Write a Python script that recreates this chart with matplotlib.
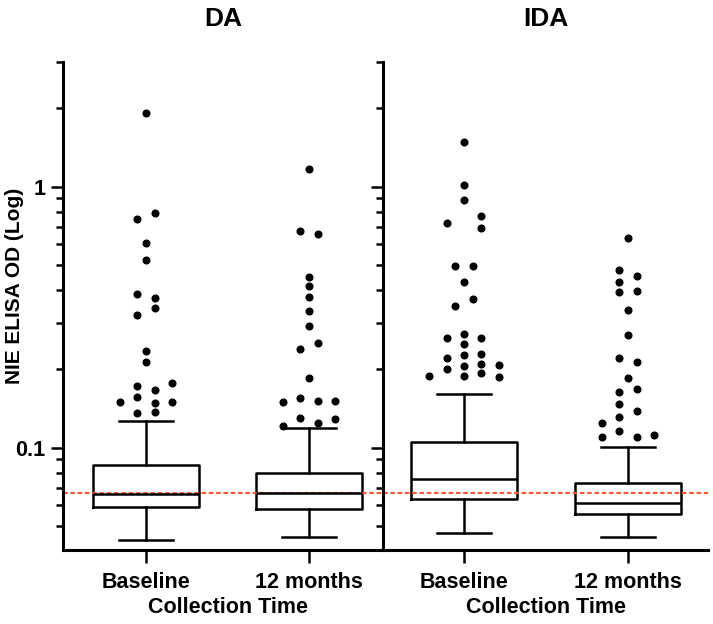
import numpy as np
import matplotlib
matplotlib.use("Agg")
import matplotlib.pyplot as plt
from matplotlib.ticker import FixedLocator, FixedFormatter, LogLocator, NullFormatter

plt.rcParams['font.family'] = ['Liberation Sans', 'DejaVu Sans']
plt.rcParams['font.weight'] = 'bold'

# ------------ Data ------------

panels = ["DA", "IDA"]
groups = ["Baseline", "12 months"]
cutoff = 0.067

# box stats: [whislo, q1, med, q3, whishi]
da_base_box = [0.0441, 0.0594, 0.0663, 0.0856, 0.1265]
da_12m_box = [0.0456, 0.0581, 0.0669, 0.0802, 0.119]
ida_base_box = [0.0470, 0.0634, 0.0756, 0.1054, 0.1607]
ida_12m_box = [0.0454, 0.0556, 0.0612, 0.0734, 0.1004]

# outliers, with the column slot GraphPad put them in
da_base_out = [1.91, 0.750, 0.791, 0.607, 0.524, 0.388, 0.374, 0.342, 0.322,
               0.2347, 0.2136, 0.1765, 0.1723, 0.1664, 0.1560, 0.1500, 0.1500,
               0.1487, 0.1366, 0.1354]
da_base_slot = [0, -1, 1, 0, 0, -1, 1, 1, -1,
                0, 0, 3, -1, 1, -1, -3, 3,
                1, 1, -1]

da_12m_out = [1.169, 0.676, 0.657, 0.452, 0.414, 0.379, 0.335, 0.2934, 0.2526,
              0.2395, 0.1855, 0.1500, 0.1546, 0.1513, 0.1513, 0.1211, 0.1296,
              0.1247, 0.1285]
da_12m_slot = [0, -1, 1, 0, 0, 0, 0, 0, 1,
               -1, 0, -3, -1, 1, 3, -3, -1,
               1, 3]

ida_base_out = [1.487, 1.015, 0.889, 0.774, 0.728, 0.693, 0.494, 0.494, 0.430,
                0.370, 0.349, 0.2639, 0.2720, 0.2639, 0.2497, 0.2212, 0.2266,
                0.2280, 0.1997, 0.2056, 0.2087, 0.2075, 0.1883, 0.1883, 0.1928,
                0.1871]
ida_base_slot = [0, 0, 0, 2, -2, 2, -1, 1, 0,
                 1, -1, -2, 0, 2, 0, -2, 0,
                 2, -2, 0, 2, 4, -4, 0, 2,
                 4]

ida_12m_out = [0.634, 0.480, 0.455, 0.429, 0.393, 0.398, 0.337, 0.270, 0.2200,
               0.2136, 0.1855, 0.1631, 0.1674, 0.1466, 0.1382, 0.1308, 0.1247,
               0.1162, 0.1096, 0.1102, 0.1118]
ida_12m_slot = [0, -1, 1, -1, -1, 1, 0, 0, -1,
                1, 0, -1, 1, -1, 1, -1, -3,
                -1, -3, 1, 3]

boxes = [[da_base_box, da_12m_box], [ida_base_box, ida_12m_box]]
outliers = [[(da_base_out, da_base_slot), (da_12m_out, da_12m_slot)],
            [(ida_base_out, ida_base_slot), (ida_12m_out, ida_12m_slot)]]

# ------------ Plot ------------

fig = plt.figure(figsize=(7.13, 6.24), dpi=100)
ax_l = fig.add_axes([63 / 713, 74 / 624, 320 / 713, 488 / 624])
ax_r = fig.add_axes([383 / 713, 74 / 624, 325 / 713, 488 / 624])
xlims = [(-0.509, 1.454), (-0.494, 1.488)]
slot_w = 0.053

for k, ax in enumerate([ax_l, ax_r]):
    stats = []
    for b in boxes[k]:
        stats.append(dict(whislo=b[0], q1=b[1], med=b[2], q3=b[3], whishi=b[4]))
    lw = 1.8
    ax.bxp(stats, positions=[0, 1], widths=0.645, capwidths=0.33,
           showfliers=False, patch_artist=False,
           boxprops=dict(color='black', linewidth=lw),
           medianprops=dict(color='black', linewidth=lw),
           whiskerprops=dict(color='black', linewidth=lw),
           capprops=dict(color='black', linewidth=lw))
    for i, (vals, slots) in enumerate(outliers[k]):
        xs = i + np.array(slots) * slot_w
        ax.plot(xs, vals, 'o', color='black', markersize=4.8, linestyle='none')

    ax.axhline(cutoff, color='#ff5533', linewidth=1.5, linestyle=(0, (2.2, 1.3)))

    ax.set_yscale('log')
    ax.set_ylim(0.0405, 3.0)
    ax.set_xlim(*xlims[k])
    ax.yaxis.set_major_locator(FixedLocator([0.1, 1]))
    ax.yaxis.set_minor_locator(LogLocator(base=10, subs=np.arange(2, 10)))
    ax.yaxis.set_minor_formatter(NullFormatter())
    ax.tick_params(axis='y', which='major', length=9, width=1.8)
    ax.tick_params(axis='y', which='minor', length=5, width=1.8)
    ax.tick_params(axis='x', length=9, width=1.8, labelsize=15.5, pad=7)
    ax.set_xticks([0, 1])
    ax.set_xticklabels(groups, fontweight='bold')
    for side in ['top', 'right']:
        ax.spines[side].set_visible(False)
    for side in ['left', 'bottom']:
        ax.spines[side].set_linewidth(2.2)
    ax.set_xlabel("Collection Time", fontsize=15.5, fontweight='bold', va='center')
    ax.xaxis.set_label_coords(0.5 if k else 0.515, -0.117)
    ax.set_title(panels[k], fontsize=19, fontweight='bold', pad=26)

ax_l.yaxis.set_major_formatter(FixedFormatter(['0.1', '1']))
ax_l.tick_params(axis='y', labelsize=15.5)
ax_r.yaxis.set_major_formatter(NullFormatter())
ax_l.set_ylabel("NIE ELISA OD (Log)", fontsize=15, fontweight='bold', va='center')
ax_l.yaxis.set_label_coords(-0.153, 0.541)

fig.savefig("out.png", dpi=100)
